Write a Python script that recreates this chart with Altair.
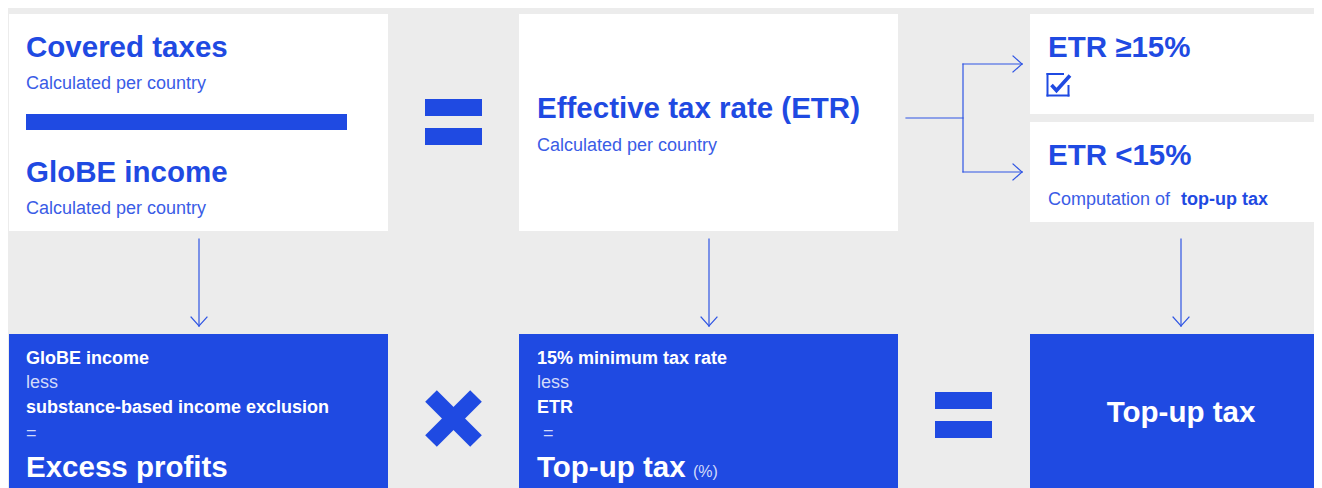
import altair as alt
import pandas as pd

BLUE = "#1f4ae2"
BLUE_SUB = "#3a5ce6"
LINE = "#2f55e4"
WHITE = "#ffffff"
LIGHT = "#d2dbfa"
BG = "#ececec"

# ---- page geometry (reference pixel space) ----
MARGIN = 8
VIEW_X0, VIEW_X1 = 8, 1314
VIEW_Y0, VIEW_Y1 = 8, 488

# ---- boxes and solid bars ----
rect_x  = [9,   519, 1030, 1030, 9,   519, 1030, 26,  425, 425, 935, 935]
rect_x2 = [388, 898, 1322, 1322, 388, 898, 1322, 347, 482, 482, 992, 992]
rect_y  = [14,  14,  14,   122,  334, 334, 334,  114, 99,  128, 392, 421]
rect_y2 = [231, 231, 114,  222,  488, 488, 488,  130, 116, 145, 409, 438]
rect_fill = [WHITE, WHITE, WHITE, WHITE, BLUE, BLUE, BLUE,
             BLUE, BLUE, BLUE, BLUE, BLUE]

# ---- thin connector lines and arrowheads ----
seg_x  = [199, 191, 207, 709, 701, 717, 1181, 1173, 1189,
          906, 963, 963, 963, 1013, 1013, 1013, 1013]
seg_y  = [239, 317, 317, 239, 317, 317, 239, 317, 317,
          118, 64, 64, 172, 56, 72, 164, 180]
seg_x2 = [199, 199, 199, 709, 709, 709, 1181, 1181, 1181,
          963, 963, 1022, 1022, 1022, 1022, 1022, 1022]
seg_y2 = [326, 326, 326, 326, 326, 326, 326, 326, 326,
          118, 172, 64, 172, 64, 64, 172, 172]

# ---- multiplication sign ----
times_x  = [431, 476]
times_y  = [396, 396]
times_x2 = [476, 431]
times_y2 = [441, 441]

# ---- checkbox ----
box_x  = [1063, 1047.5, 1047.5, 1068.5]
box_y  = [74,   74,     95.5,   95.5]
box_x2 = [1047.5, 1047.5, 1068.5, 1068.5]
box_y2 = [74,   95.5,   95.5,   86]
check_x = [1051.5, 1056.5, 1070]
check_y = [85, 90.5, 75.5]
check_order = [0, 1, 2]

# ---- text ----
bold_text = ["Covered taxes", "GloBE income", "Effective tax rate (ETR)",
             "ETR \u226515%", "ETR <15%", "top-up tax",
             "GloBE income", "substance-based income exclusion", "Excess profits",
             "15% minimum tax rate", "ETR", "Top-up tax"]
bold_x = [26, 26, 537, 1048, 1048, 1181, 26, 26, 26, 537, 537, 537]
bold_y = [57, 181.5, 118, 57, 165, 205, 364, 413, 477, 364, 413, 477]
bold_size = [29.5, 29.5, 29.5, 29.5, 29.5, 18, 18, 18, 29.5, 18, 18, 29.5]
bold_color = [BLUE, BLUE, BLUE, BLUE, BLUE, BLUE,
              WHITE, WHITE, WHITE, WHITE, WHITE, WHITE]

center_text = ["Top-up tax"]
center_x = [1181]
center_y = [422]
center_size = [29.5]

reg_text = ["Calculated per country", "Calculated per country", "Calculated per country",
            "Computation of", "less", "=", "less", "=", "(%)"]
reg_x = [26, 26, 537, 1048, 26, 26, 537, 543, 693]
reg_y = [89, 213.5, 151, 205, 388, 439, 388, 439, 477]
reg_size = [18, 18, 18, 18, 18, 18, 18, 18, 16]
reg_color = [BLUE_SUB, BLUE_SUB, BLUE_SUB, BLUE_SUB, LIGHT, LIGHT, LIGHT, LIGHT, LIGHT]

W = VIEW_X1 - VIEW_X0
H = VIEW_Y1 - VIEW_Y0
xs = alt.Scale(domain=[VIEW_X0, VIEW_X1], nice=False, zero=False)
ys = alt.Scale(domain=[VIEW_Y1, VIEW_Y0], nice=False, zero=False)

def X(f="x"):
    return alt.X(f"{f}:Q", scale=xs, axis=None)

def Y(f="y"):
    return alt.Y(f"{f}:Q", scale=ys, axis=None)

rects = alt.Chart(pd.DataFrame({"x": rect_x, "x2": rect_x2, "y": rect_y,
                                "y2": rect_y2, "c": rect_fill})).mark_rect(clip=True).encode(
    x=X(), x2="x2:Q", y=Y(), y2="y2:Q", color=alt.Color("c:N", scale=None))

segs = alt.Chart(pd.DataFrame({"x": seg_x, "y": seg_y, "x2": seg_x2,
                               "y2": seg_y2})).mark_rule(
    color=LINE, strokeWidth=1.2, strokeCap="square").encode(
    x=X(), y=Y(), x2="x2:Q", y2="y2:Q")

times = alt.Chart(pd.DataFrame({"x": times_x, "y": times_y, "x2": times_x2,
                                "y2": times_y2})).mark_rule(
    color=BLUE, strokeWidth=16.5, strokeCap="butt").encode(
    x=X(), y=Y(), x2="x2:Q", y2="y2:Q")

cbox = alt.Chart(pd.DataFrame({"x": box_x, "y": box_y, "x2": box_x2,
                               "y2": box_y2})).mark_rule(
    color=BLUE, strokeWidth=2, strokeCap="square").encode(
    x=X(), y=Y(), x2="x2:Q", y2="y2:Q")

check = alt.Chart(pd.DataFrame({"x": check_x, "y": check_y,
                                "o": check_order})).mark_line(
    color=BLUE, strokeWidth=3.6, strokeJoin="miter", strokeCap="butt").encode(
    x=X(), y=Y(), order="o:Q")

FONT = "Liberation Sans"

bold = alt.Chart(pd.DataFrame({"t": bold_text, "x": bold_x, "y": bold_y,
                               "s": bold_size, "c": bold_color})).mark_text(
    align="left", baseline="alphabetic", font=FONT, fontWeight="bold").encode(
    x=X(), y=Y(), text="t:N", size=alt.Size("s:Q", scale=None),
    color=alt.Color("c:N", scale=None))

centered = alt.Chart(pd.DataFrame({"t": center_text, "x": center_x, "y": center_y,
                                   "s": center_size})).mark_text(
    align="center", baseline="alphabetic", font=FONT, fontWeight="bold",
    color=WHITE).encode(
    x=X(), y=Y(), text="t:N", size=alt.Size("s:Q", scale=None))

regular = alt.Chart(pd.DataFrame({"t": reg_text, "x": reg_x, "y": reg_y,
                                  "s": reg_size, "c": reg_color})).mark_text(
    align="left", baseline="alphabetic", font=FONT, fontWeight="normal").encode(
    x=X(), y=Y(), text="t:N", size=alt.Size("s:Q", scale=None),
    color=alt.Color("c:N", scale=None))

chart = alt.layer(rects, segs, times, cbox, check, bold, centered, regular).properties(
    width=W, height=H, padding=0, background=BG,
    autosize=alt.AutoSizeParams(type="none"),
).configure_view(stroke=None)

chart.save("out.html", embed_options={"renderer": "svg", "actions": False})
